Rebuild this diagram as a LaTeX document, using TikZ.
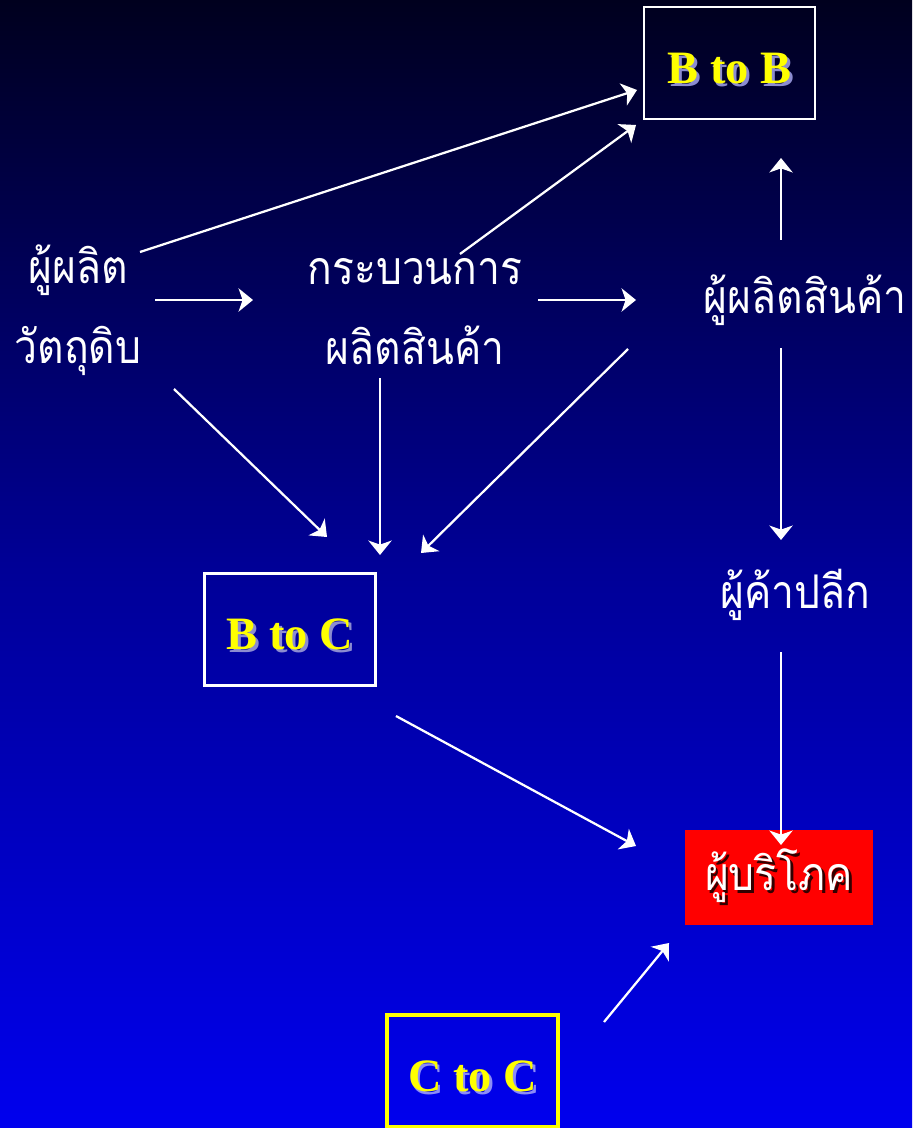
\documentclass[tikz,border=0pt]{standalone}
\usepackage{fontspec}
\setmainfont{Liberation Serif}
\newfontfamily\thaifont[Script=Thai,FakeStretch=0.88]{Loma}
\usetikzlibrary{arrows.meta}
\definecolor{bgtop}{RGB}{0,0,30}
\definecolor{bgmid}{RGB}{0,0,150}
\definecolor{bgbot}{RGB}{0,0,238}
\definecolor{kindyellow}{RGB}{255,255,0}
\newcommand{\glowtext}[2]{\makebox[0pt][l]{\hspace{2pt}\raisebox{-2pt}{\textcolor{#1}{#2}}}#2}
\begin{document}
\begin{tikzpicture}[x=0.025cm,y=-0.025cm]
		    \tikzstyle{every node}=[inner sep=0pt]
		    \tikzstyle{thai}=[font=\thaifont\fontsize{33}{57}\selectfont,text=white,align=center]
		    \tikzstyle{kind}=[draw=white,line width=1.7pt,minimum width=4.28cm,minimum height=2.8cm,text height=29pt,text depth=0pt,font=\bfseries\fontsize{33}{40}\selectfont,text=kindyellow]
		    \tikzstyle{flow}=[draw=white,line width=1.6pt,-{Stealth[length=0.36cm,width=0.58cm,inset=0.1cm]}]
		    \shade[top color=bgtop,bottom color=bgbot,middle color=bgmid] (0,0) rectangle (912,1128);
		    \useasboundingbox (0,0) rectangle (912,1128);
		    \node[thai] (raw) at (78,310) {ผู้ผลิต\\วัตถุดิบ};
		    \node[thai] (proc) at (415,312) {กระบวนการ\\ผลิตสินค้า};
		    \node[thai] (maker) at (805,300) {ผู้ผลิตสินค้า};
		    \node[thai] (retail) at (795,595) {ผู้ค้าปลีก};
		    \node[kind] (btob) at (729.5,63) {\glowtext{white!55!bgmid}{B to B}};
		    \node[kind] (btoc) at (290,629.5) {\glowtext{white!55!bgmid}{B to C}};
		    \node[kind,draw=kindyellow,line width=2.4pt] (ctoc) at (472.5,1071) {\glowtext{white!55!bgbot}{C to C}};
		    \node[thai,fill=red,minimum width=4.7cm,minimum height=2.375cm] (cons) at (779,877.5) {\glowtext{black!80!red}{ผู้บริโภค}};
		    \coordinate (raw-up) at (140,252);
		    \coordinate (btob-in1) at (637,90);
		    \coordinate (proc-up) at (460,254);
		    \coordinate (btob-in2) at (636,125);
		    \coordinate (raw-right) at (155,300);
		    \coordinate (proc-in) at (253,300);
		    \coordinate (proc-right) at (538,300);
		    \coordinate (maker-in) at (636,300);
		    \coordinate (maker-up) at (781,240);
		    \coordinate (btob-in3) at (781,158);
		    \coordinate (maker-down) at (781,348);
		    \coordinate (retail-in) at (781,540);
		    \coordinate (raw-down) at (174,389);
		    \coordinate (btoc-in1) at (327,537);
		    \coordinate (proc-down) at (380,378);
		    \coordinate (btoc-in2) at (380,555);
		    \coordinate (maker-left) at (628,349);
		    \coordinate (btoc-in3) at (421,553);
		    \coordinate (retail-down) at (781,652);
		    \coordinate (cons-in1) at (781,845);
		    \coordinate (btoc-out) at (396,716);
		    \coordinate (cons-in2) at (636,846);
		    \coordinate (ctoc-out) at (604,1022);
		    \coordinate (cons-in3) at (669,943);
		    \draw[flow] (raw-up) -- (btob-in1);
		    \draw[flow] (proc-up) -- (btob-in2);
		    \draw[flow] (raw-right) -- (proc-in);
		    \draw[flow] (proc-right) -- (maker-in);
		    \draw[flow] (maker-up) -- (btob-in3);
		    \draw[flow] (maker-down) -- (retail-in);
		    \draw[flow] (raw-down) -- (btoc-in1);
		    \draw[flow] (proc-down) -- (btoc-in2);
		    \draw[flow] (maker-left) -- (btoc-in3);
		    \draw[flow] (retail-down) -- (cons-in1);
		    \draw[flow] (btoc-out) -- (cons-in2);
		    \draw[flow] (ctoc-out) -- (cons-in3);
\end{tikzpicture}
\end{document}
